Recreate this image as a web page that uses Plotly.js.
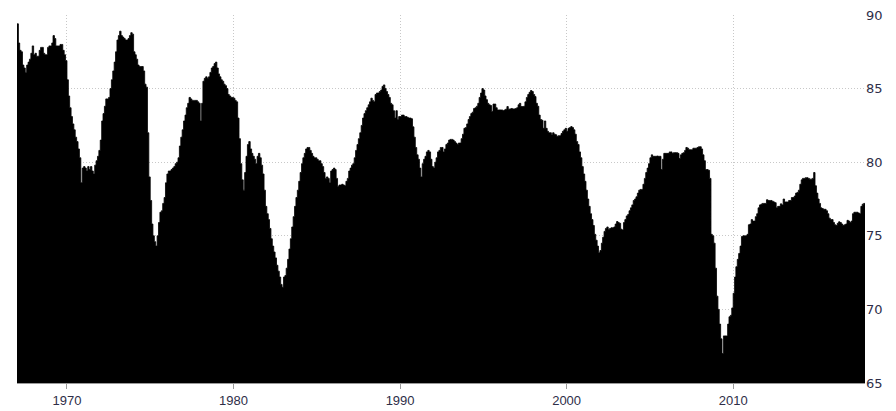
<!DOCTYPE html>
<html>
<head>
<meta charset="utf-8">
<script src="https://cdn.plot.ly/plotly-3.0.1.min.js"></script>
<style>
  html, body { margin: 0; padding: 0; background: #fff; }
  #chart { width: 896px; height: 411px; }
</style>
</head>
<body>
<div id="chart"></div>
<script>
// Monthly capacity utilization (%), January 1967 onward
const startYear = 1967;

const cap1967_1969 = [
  89.4, 88.1, 87.6, 87.5, 86.6, 86.4, 86.1, 86.6, 86.8, 87.0, 87.4, 87.9,
  87.3, 87.4, 87.2, 87.2, 87.6, 87.8, 87.8, 87.4, 87.3, 87.3, 87.8, 87.9,
  87.9, 88.1, 88.6, 88.4, 87.9, 87.9, 87.9, 88.0, 88.0, 87.6, 87.3, 86.9
];

const cap1970s = [
  85.6, 84.5, 83.7, 83.1, 82.6, 82.2, 81.7, 81.4, 80.9, 80.3, 78.6, 79.6,
  79.7, 79.6, 79.4, 79.7, 79.5, 79.7, 79.4, 79.2, 79.8, 80.1, 80.4, 80.8,
  81.5, 82.8, 83.3, 83.8, 84.3, 84.3, 84.4, 85.0, 85.6, 86.2, 86.8, 87.5,
  88.3, 88.6, 88.9, 88.6, 88.5, 88.4, 88.3, 88.3, 88.4, 88.6, 88.8, 88.7,
  87.5, 87.3, 87.0, 86.6, 86.5, 86.5, 86.5, 86.2, 85.3, 85.1, 82.0, 79.0,
  77.4, 75.8, 75.0, 74.6, 74.3, 75.0, 75.9, 76.6, 76.7, 77.2, 77.6, 78.6,
  79.2, 79.4, 79.4, 79.5, 79.6, 79.7, 79.9, 80.0, 80.3, 81.1, 81.7, 82.2,
  82.8, 83.2, 83.7, 84.0, 84.4, 84.3, 84.2, 84.2, 84.2, 84.2, 84.1, 84.0,
  82.8, 84.0, 85.5, 85.7, 85.8, 85.7, 85.8, 86.1, 86.4, 86.5, 86.7, 86.8,
  86.4, 86.0, 85.8, 85.6, 85.5, 85.3, 85.2, 85.0, 84.6, 84.5, 84.4, 84.4
];

const cap1980s = [
  84.35, 84.2, 84.1, 83.0, 81.6, 79.9, 78.8, 78.1, 79.3, 80.4, 81.2, 81.4,
  80.9, 80.6, 80.4, 80.2, 79.9, 80.4, 80.6, 80.3, 79.8, 79.2, 78.1, 77.0,
  76.5, 76.1, 75.5, 74.8, 74.3, 73.9, 73.5, 73.0, 72.6, 72.2, 71.7, 71.5,
  72.2, 72.3, 72.8, 73.4, 74.1, 74.8, 75.6, 76.3, 77.0, 77.6, 78.1, 78.7,
  79.3, 79.9, 80.3, 80.6, 80.9, 81.0, 81.0, 80.8, 80.6, 80.4, 80.3, 80.3,
  80.2, 80.1, 80.1, 79.9, 79.7, 79.3, 78.9, 79.0, 78.9, 78.6, 79.4, 79.5,
  79.6, 79.5, 78.9, 78.35, 78.45, 78.45, 78.5, 78.45, 78.4, 78.7, 78.9, 79.4,
  79.6, 79.8, 79.9, 80.3, 80.8, 81.2, 81.6, 82.0, 82.5, 83.0, 83.3, 83.5,
  83.7, 83.9, 84.1, 84.35, 84.2, 84.1, 84.6, 84.7, 84.7, 84.8, 84.9, 85.15,
  85.25, 85.0, 84.8, 84.6, 84.4, 84.0, 83.9, 83.5, 83.0, 83.5, 82.9, 83.1
];

const cap1990s = [
  83.1, 83.2, 83.2, 83.1, 83.1, 83.05, 83.0, 83.0, 82.95, 82.4, 81.7, 81.0,
  80.5, 80.2, 79.6, 79.0, 79.9, 80.2, 80.4, 80.7, 80.8, 80.7, 80.2, 79.7,
  79.6, 80.0, 80.3, 80.7, 80.8, 81.0, 81.0, 80.7, 80.9, 81.2, 81.3, 81.5,
  81.55, 81.55, 81.5, 81.4, 81.3, 81.2, 81.3, 81.3, 81.6, 81.9, 82.3, 82.35,
  82.6, 82.9, 83.1, 83.3, 83.4, 83.65, 83.7, 83.8, 84.0, 84.4, 84.7, 85.0,
  84.9, 84.5, 84.25, 84.0, 83.9, 83.85, 83.45, 83.95, 83.95, 83.7, 83.55, 83.55,
  83.55, 83.55, 83.5, 83.55, 83.6, 83.78, 83.6, 83.62, 83.65, 83.62, 83.62, 83.65,
  83.7, 83.9, 84.0, 83.78, 83.78, 83.8, 84.1, 84.4, 84.6, 84.75, 84.87, 84.8,
  84.6, 84.46, 84.0, 83.8, 83.2, 82.9, 82.85, 82.3, 82.8, 82.3, 82.1, 82.0,
  82.0, 81.86, 82.0, 81.9, 81.86, 81.74, 81.8, 81.8, 81.95, 82.1, 82.2, 82.3
];

const cap2000s = [
  82.1, 82.3, 82.35, 82.42, 82.35, 82.2, 81.9, 81.4, 81.2, 80.7, 80.3, 79.7,
  79.2, 78.7, 78.1, 77.5, 77.0, 76.5, 76.1, 75.7, 75.1, 74.7, 74.3, 73.85,
  74.0, 74.5, 74.9, 75.3, 75.5, 75.6, 75.45, 75.5, 75.55, 75.55, 75.6, 75.8,
  75.97, 75.9, 75.85, 75.45, 75.4, 75.9, 76.1, 76.35, 76.45, 76.7, 76.9, 77.1,
  77.4, 77.5, 77.65, 77.9, 78.1, 78.15, 78.15, 78.5, 78.9, 79.3, 79.6, 79.9,
  80.3, 80.5, 80.4, 80.4, 80.4, 80.42, 80.4, 80.4, 79.5, 80.2, 80.6, 80.6,
  80.6, 80.6, 80.7, 80.7, 80.6, 80.65, 80.65, 80.65, 80.6, 80.25, 80.5, 80.6,
  80.65, 80.8, 81.0, 80.95, 80.85, 80.85, 80.85, 80.95, 80.95, 80.95, 81.0, 81.05,
  81.05, 80.9, 80.5, 80.1, 79.5, 79.5, 79.45, 78.9, 75.1, 75.0, 74.5, 72.8,
  70.9, 70.0, 69.0, 68.0, 67.0, 68.2, 68.2, 68.2, 69.0, 69.5, 69.6, 70.1
];

const cap2010_2017 = [
  71.1, 72.2, 72.9, 73.4, 73.8, 74.3, 74.95, 75.0, 75.0, 75.0, 75.1, 75.75,
  75.8, 76.1, 76.0, 76.0, 76.3, 76.5, 76.9, 77.1, 77.15, 77.2, 77.2, 77.2,
  77.45, 77.4, 77.4, 77.4, 77.35, 77.3, 77.25, 76.9, 77.0, 77.0, 77.17, 77.1,
  77.5, 77.3, 77.3, 77.3, 77.4, 77.4, 77.6, 77.6, 77.7, 77.9, 77.95, 78.1,
  78.5, 78.8, 78.9, 78.9, 78.95, 78.95, 78.9, 78.85, 78.85, 78.9, 79.3, 78.4,
  77.9, 77.5, 77.2, 76.9, 76.85, 76.8, 76.8, 76.7, 76.5, 76.2, 76.1, 76.1,
  75.9, 75.75, 75.7, 75.85, 75.95, 75.9, 75.8, 75.7, 75.75, 75.8, 76.05, 76.0,
  75.9, 76.0, 76.5, 76.6, 76.6, 76.6, 76.55, 76.5, 77.0, 77.15, 77.2
];

const xTickYears = [1970, 1980, 1990, 2000, 2010];
const yTicks = [65, 70, 75, 80, 85, 90];

const values = [].concat(cap1967_1969, cap1970s, cap1980s, cap1990s, cap2000s, cap2010_2017);

function monthDate(i) {
  const y = startYear + Math.floor(i / 12);
  const m = (i % 12) + 1;
  return y + '-' + (m < 10 ? '0' : '') + m + '-01';
}

// step series: each month drawn as a flat segment until the next month start
const xs = values.map((v, i) => monthDate(i));
const ys = values.slice();
xs.push(monthDate(values.length));
ys.push(values[values.length - 1]);

const trace = {
  type: 'scatter',
  mode: 'lines',
  x: xs,
  y: ys,
  line: { color: '#000000', width: 0.8, shape: 'hv' },
  fill: 'tozeroy',
  fillcolor: '#000000',
  hoverinfo: 'x+y'
};

const layout = {
  width: 896,
  height: 411,
  margin: { l: 17, r: 31, t: 15, b: 28, pad: 0 },
  paper_bgcolor: '#ffffff',
  plot_bgcolor: '#ffffff',
  showlegend: false,
  xaxis: {
    type: 'date',
    range: [monthDate(0), monthDate(values.length)],
    tickvals: xTickYears.map(y => y + '-01-01'),
    ticktext: xTickYears.map(String),
    showgrid: true,
    gridcolor: '#c8c8c8',
    griddash: '1px,2px',
    gridwidth: 1,
    showline: true,
    linecolor: '#9a9a9a',
    linewidth: 1,
    ticks: 'outside',
    ticklen: 5,
    tickcolor: '#9a9a9a',
    tickfont: { family: 'Liberation Sans, Arial, sans-serif', size: 13, color: '#2e2e48' },
    zeroline: false,
    fixedrange: true
  },
  yaxis: {
    side: 'right',
    range: [65, 90],
    tickvals: yTicks,
    ticktext: yTicks.map(String),
    showgrid: true,
    gridcolor: '#c8c8c8',
    griddash: '1px,2px',
    gridwidth: 1,
    showline: false,
    ticks: '',
    tickfont: { family: 'DejaVu Sans, sans-serif', size: 13, color: '#2e2e48' },
    zeroline: false,
    fixedrange: true
  }
};

Plotly.newPlot('chart', [trace], layout, { displayModeBar: false, staticPlot: true });
</script>
</body>
</html>
